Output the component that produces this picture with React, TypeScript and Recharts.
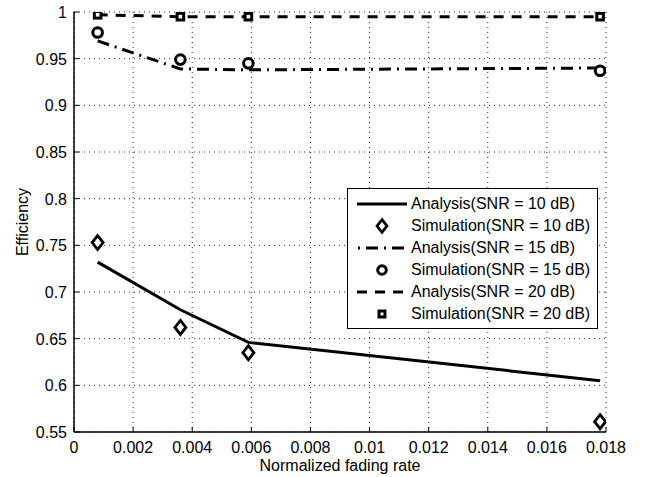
import React from 'react';
import { ComposedChart, Line, XAxis, YAxis, CartesianGrid, Label } from 'recharts';

// Normalized fading rate at which each curve was evaluated
const fadingRate = [0.0008, 0.0036, 0.0059, 0.0178];

// Efficiency, analysis vs. simulation, per SNR
const analysis10 = [0.732, 0.681, 0.646, 0.605];
const simulation10 = [0.753, 0.662, 0.635, 0.561];
const analysis15 = [0.969, 0.939, 0.938, 0.94];
const simulation15 = [0.978, 0.949, 0.945, 0.937];
const analysis20 = [0.997, 0.995, 0.995, 0.995];
const simulation20 = [0.997, 0.995, 0.995, 0.995];

const xTicks = [0, 0.002, 0.004, 0.006, 0.008, 0.01, 0.012, 0.014, 0.016, 0.018];
const xTickLabels = ['0', '0.002', '0.004', '0.006', '0.008', '0.01', '0.012', '0.014', '0.016', '0.018'];
const yTicks = [0.55, 0.6, 0.65, 0.7, 0.75, 0.8, 0.85, 0.9, 0.95, 1];
const yTickLabels = ['0.55', '0.6', '0.65', '0.7', '0.75', '0.8', '0.85', '0.9', '0.95', '1'];

const legendLabels = [
  'Analysis(SNR = 10 dB)',
  'Simulation(SNR = 10 dB)',
  'Analysis(SNR = 15 dB)',
  'Simulation(SNR = 15 dB)',
  'Analysis(SNR = 20 dB)',
  'Simulation(SNR = 20 dB)',
];

const rows = fadingRate.map((rate, i) => ({
  rate,
  ana10: analysis10[i],
  sim10: simulation10[i],
  ana15: analysis15[i],
  sim15: simulation15[i],
  ana20: analysis20[i],
  sim20: simulation20[i],
}));

const FONT = '"Liberation Sans", Arial, Helvetica, sans-serif';
const FS = 16;
const TICK_LEN = 5;

const labelFor = (value: number, ticks: number[], labels: string[]) => {
  const idx = ticks.findIndex((t) => Math.abs(t - value) < 1e-9);
  return idx >= 0 ? labels[idx] : String(value);
};

const BottomTick = (props: any) => {
  const { x, y, payload } = props;
  return (
    <g>
      <line x1={x} x2={x} y1={y} y2={y - TICK_LEN} stroke="#000" strokeWidth={1} />
      <text x={x} y={y + 21} textAnchor="middle" fontFamily={FONT} fontSize={FS} fill="#000">
        {labelFor(payload.value, xTicks, xTickLabels)}
      </text>
    </g>
  );
};

const TopTick = (props: any) => {
  const { x, y } = props;
  return <line x1={x} x2={x} y1={y} y2={y + TICK_LEN} stroke="#000" strokeWidth={1} />;
};

const LeftTick = (props: any) => {
  const { x, y, payload } = props;
  return (
    <g>
      <line x1={x} x2={x + TICK_LEN} y1={y} y2={y} stroke="#000" strokeWidth={1} />
      <text x={x - 7} y={y + 6} textAnchor="end" fontFamily={FONT} fontSize={FS} fill="#000">
        {labelFor(payload.value, yTicks, yTickLabels)}
      </text>
    </g>
  );
};

const RightTick = (props: any) => {
  const { x, y } = props;
  return <line x1={x} x2={x - TICK_LEN} y1={y} y2={y} stroke="#000" strokeWidth={1} />;
};

const DiamondMark = ({ cx, cy, size = 1 }: any) => {
  if (cx == null || cy == null) return null;
  const w = 5.5 * size;
  const h = 7 * size;
  return (
    <path
      d={`M${cx},${cy - h}L${cx + w},${cy}L${cx},${cy + h}L${cx - w},${cy}Z`}
      fill="#fff"
      stroke="#000"
      strokeWidth={2.8}
    />
  );
};

const CircleMark = ({ cx, cy, size = 1 }: any) => {
  if (cx == null || cy == null) return null;
  return <circle cx={cx} cy={cy} r={4.8 * size} fill="#fff" stroke="#000" strokeWidth={3} />;
};

const SquareMark = ({ cx, cy, size = 1 }: any) => {
  if (cx == null || cy == null) return null;
  const s = 3.3 * size;
  return (
    <rect x={cx - s} y={cy - s} width={2 * s} height={2 * s} fill="#fff" stroke="#000" strokeWidth={3} />
  );
};

const YTitle = (props: any) => {
  const vb = props.viewBox || { x: 0, y: 12, width: 74, height: 420 };
  const cx = 22;
  const cy = vb.y + vb.height / 2;
  return (
    <text
      x={cx}
      y={cy}
      transform={`rotate(-90 ${cx} ${cy})`}
      textAnchor="middle"
      dominantBaseline="central"
      fontFamily={FONT}
      fontSize={FS}
      fill="#000"
    >
      Efficiency
    </text>
  );
};

const XTitle = (props: any) => {
  const vb = props.viewBox || { x: 74, y: 432, width: 532, height: 40 };
  return (
    <text x={vb.x + vb.width / 2} y={471} textAnchor="middle" fontFamily={FONT} fontSize={FS} fill="#000">
      Normalized fading rate
    </text>
  );
};

const LegendSample = ({ index }: { index: number }) => {
  const w = 50;
  const h = 16;
  const mid = h / 2;
  let el: React.ReactNode = null;
  if (index === 0) el = <line x1={0} x2={w} y1={mid} y2={mid} stroke="#000" strokeWidth={3} />;
  if (index === 2)
    el = <line x1={0} x2={w} y1={mid} y2={mid} stroke="#000" strokeWidth={3} strokeDasharray="2 6 12 6" strokeDashoffset={-1} />;
  if (index === 4)
    el = <line x1={0} x2={w} y1={mid} y2={mid} stroke="#000" strokeWidth={3} strokeDasharray="10 8" />;
  if (index === 1) el = <DiamondMark cx={w / 2} cy={mid} size={0.9} />;
  if (index === 3) el = <CircleMark cx={w / 2} cy={mid} size={0.9} />;
  if (index === 5) el = <SquareMark cx={w / 2} cy={mid} size={0.9} />;
  return (
    <svg width={w} height={h} style={{ display: 'block', overflow: 'visible' }}>
      {el}
    </svg>
  );
};

const LegendBox = () => (
  <div
    style={{
      position: 'absolute',
      left: 347,
      top: 188,
      width: 251,
      height: 141,
      boxSizing: 'border-box',
      border: '1.5px solid #000',
      background: '#fff',
      fontFamily: FONT,
      fontSize: FS,
      color: '#000',
    }}
  >
    {legendLabels.map((label, i) => (
      <div
        key={label}
        style={{
          position: 'absolute',
          left: 9,
          top: 15 - 8 + i * 22,
          height: 16,
          display: 'flex',
          alignItems: 'center',
          whiteSpace: 'nowrap',
        }}
      >
        <LegendSample index={i} />
        <span style={{ marginLeft: 4, lineHeight: '16px' }}>{label}</span>
      </div>
    ))}
  </div>
);

export default function App() {
  return (
    <div style={{ position: 'absolute', left: 0, top: 0, width: 654, height: 477, background: '#fff' }}>
      <ComposedChart width={654} height={477} data={rows} margin={{ top: 12, right: 48, bottom: 5, left: 0 }}>
        <CartesianGrid stroke="#222" strokeDasharray="1 4" strokeWidth={1} />
        <XAxis
          dataKey="rate"
          type="number"
          domain={[0, 0.018]}
          ticks={xTicks}
          allowDataOverflow
          interval={0}
          height={40}
          tickSize={0}
          tickMargin={0}
          tickLine={false}
          tick={<BottomTick />}
          axisLine={{ stroke: '#000', strokeWidth: 1.5 }}
        >
          <Label content={<XTitle />} />
        </XAxis>
        <XAxis
          xAxisId="top"
          orientation="top"
          dataKey="rate"
          type="number"
          domain={[0, 0.018]}
          ticks={xTicks}
          allowDataOverflow
          interval={0}
          height={0}
          tickSize={0}
          tickMargin={0}
          tickLine={false}
          tick={<TopTick />}
          axisLine={{ stroke: '#000', strokeWidth: 1.5 }}
        />
        <YAxis
          type="number"
          domain={[0.55, 1]}
          ticks={yTicks}
          allowDataOverflow
          interval={0}
          width={74}
          tickSize={0}
          tickMargin={0}
          tickLine={false}
          tick={<LeftTick />}
          axisLine={{ stroke: '#000', strokeWidth: 1.5 }}
        >
          <Label content={<YTitle />} />
        </YAxis>
        <YAxis
          yAxisId="right"
          orientation="right"
          type="number"
          domain={[0.55, 1]}
          ticks={yTicks}
          allowDataOverflow
          interval={0}
          width={0}
          tickSize={0}
          tickMargin={0}
          tickLine={false}
          tick={<RightTick />}
          axisLine={{ stroke: '#000', strokeWidth: 1.5 }}
        />

        <Line dataKey="ana10" stroke="#000" strokeWidth={3} dot={false} isAnimationActive={false} />
        <Line dataKey="ana15" stroke="#000" strokeWidth={3} strokeDasharray="12 6 2 6" dot={false} isAnimationActive={false} />
        <Line dataKey="ana20" stroke="#000" strokeWidth={3} strokeDasharray="10 8" dot={false} isAnimationActive={false} />

        <Line
          dataKey="sim10"
          stroke="none"
          isAnimationActive={false}
          dot={(p: any) => <DiamondMark key={`d${p.index}`} cx={p.cx} cy={p.cy} />}
        />
        <Line
          dataKey="sim15"
          stroke="none"
          isAnimationActive={false}
          dot={(p: any) => <CircleMark key={`c${p.index}`} cx={p.cx} cy={p.cy} />}
        />
        <Line
          dataKey="sim20"
          stroke="none"
          isAnimationActive={false}
          dot={(p: any) => <SquareMark key={`s${p.index}`} cx={p.cx} cy={p.cy} />}
        />
      </ComposedChart>
      <LegendBox />
    </div>
  );
}
